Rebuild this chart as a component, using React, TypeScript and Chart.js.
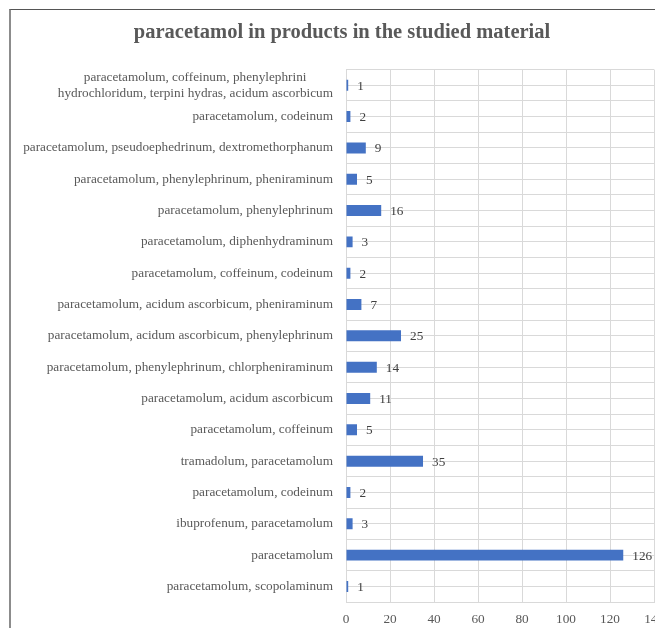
import React, { useEffect, useRef } from "react";
import { Chart, registerables } from "chart.js";

Chart.register(...registerables);

const TITLE = "paracetamol in products in the studied material";

const categories: (string | string[])[] = [
  ["paracetamolum, coffeinum, phenylephrini" + "\u00A0".repeat(8), "hydrochloridum, terpini hydras, acidum ascorbicum"],
  "paracetamolum, codeinum",
  "paracetamolum, pseudoephedrinum, dextromethorphanum",
  "paracetamolum, phenylephrinum, pheniraminum",
  "paracetamolum, phenylephrinum",
  "paracetamolum, diphenhydraminum",
  "paracetamolum, coffeinum, codeinum",
  "paracetamolum, acidum ascorbicum, pheniraminum",
  "paracetamolum, acidum ascorbicum, phenylephrinum",
  "paracetamolum, phenylephrinum, chlorpheniraminum",
  "paracetamolum, acidum ascorbicum",
  "paracetamolum, coffeinum",
  "tramadolum, paracetamolum",
  "paracetamolum, codeinum",
  "ibuprofenum, paracetamolum",
  "paracetamolum",
  "paracetamolum, scopolaminum",
];

const values: number[] = [1, 2, 9, 5, 16, 3, 2, 7, 25, 14, 11, 5, 35, 2, 3, 126, 1];

const xTicks = { min: 0, max: 140, step: 20 };

const SERIF = '"Liberation Serif", "Times New Roman", serif';
const GRID = "#d9d9d9";
const BAR = "#4472C4";

const valueLabels = {
  id: "valueLabels",
  afterDatasetsDraw(chart: any) {
    const ctx = chart.ctx;
    const meta = chart.getDatasetMeta(0);
    ctx.save();
    ctx.font = `13.25px ${SERIF}`;
    ctx.fillStyle = "#404040";
    ctx.textAlign = "left";
    ctx.textBaseline = "middle";
    meta.data.forEach((bar: any, i: number) => {
      ctx.fillText(String(values[i]), bar.x + 9, bar.y + 1);
    });
    ctx.restore();
  },
};

export default function App() {
  const ref = useRef<HTMLCanvasElement>(null);
  useEffect(() => {
    if (!ref.current) return;
    const chart = new Chart(ref.current, {
      type: "bar",
      data: {
        labels: categories as any,
        datasets: [
          {
            data: values,
            backgroundColor: BAR,
            borderWidth: 0,
            barPercentage: 0.35,
            categoryPercentage: 1,
          },
        ],
      },
      options: {
        indexAxis: "y",
        animation: false,
        responsive: true,
        maintainAspectRatio: false,
        layout: { padding: { left: 0, right: 0, top: 0, bottom: 7 } },
        plugins: {
          legend: { display: false },
          tooltip: { enabled: false },
          title: {
            display: true,
            text: TITLE,
            color: "#595959",
            font: { family: SERIF, size: 20.5, weight: "bold" },
            padding: { top: 10, bottom: 25 },
          },
        },
        scales: {
          x: {
            type: "linear",
            min: xTicks.min,
            max: xTicks.max,
            ticks: {
              stepSize: xTicks.step,
              color: "#595959",
              font: { family: SERIF, size: 13.25 },
              padding: 9,
            },
            grid: { color: GRID, drawTicks: false },
            border: { color: GRID },
          },
          y: {
            type: "category",
            position: "left",
            ticks: {
              autoSkip: false,
              color: "#595959",
              font: { family: SERIF, size: 13.25 },
              padding: 13,
            },
            grid: { color: GRID, drawTicks: false, offset: true },
            border: { color: GRID },
            afterFit: (s: any) => {
              s.width = 335;
            },
          },
          y2: {
            type: "category",
            position: "right",
            labels: categories as any,
            offset: true,
            ticks: { display: false, autoSkip: false },
            grid: { color: GRID, drawTicks: false, offset: false },
            border: { display: false },
            afterFit: (s: any) => {
              s.width = 17;
            },
          },
        },
      },
      plugins: [valueLabels],
    });
    return () => chart.destroy();
  }, []);

  return (
    <div style={{ width: 655, height: 620, overflow: "hidden" }}>
      <div
        style={{
          marginLeft: 1,
          marginTop: 1,
          width: 700,
          height: 660,
          borderLeft: "2px solid #8c8c8c",
          borderTop: "1px solid #555",
          boxSizing: "border-box",
        }}
      >
        <div style={{ position: "relative", width: 662, height: 633 }}>
          <canvas ref={ref} />
        </div>
      </div>
    </div>
  );
}
